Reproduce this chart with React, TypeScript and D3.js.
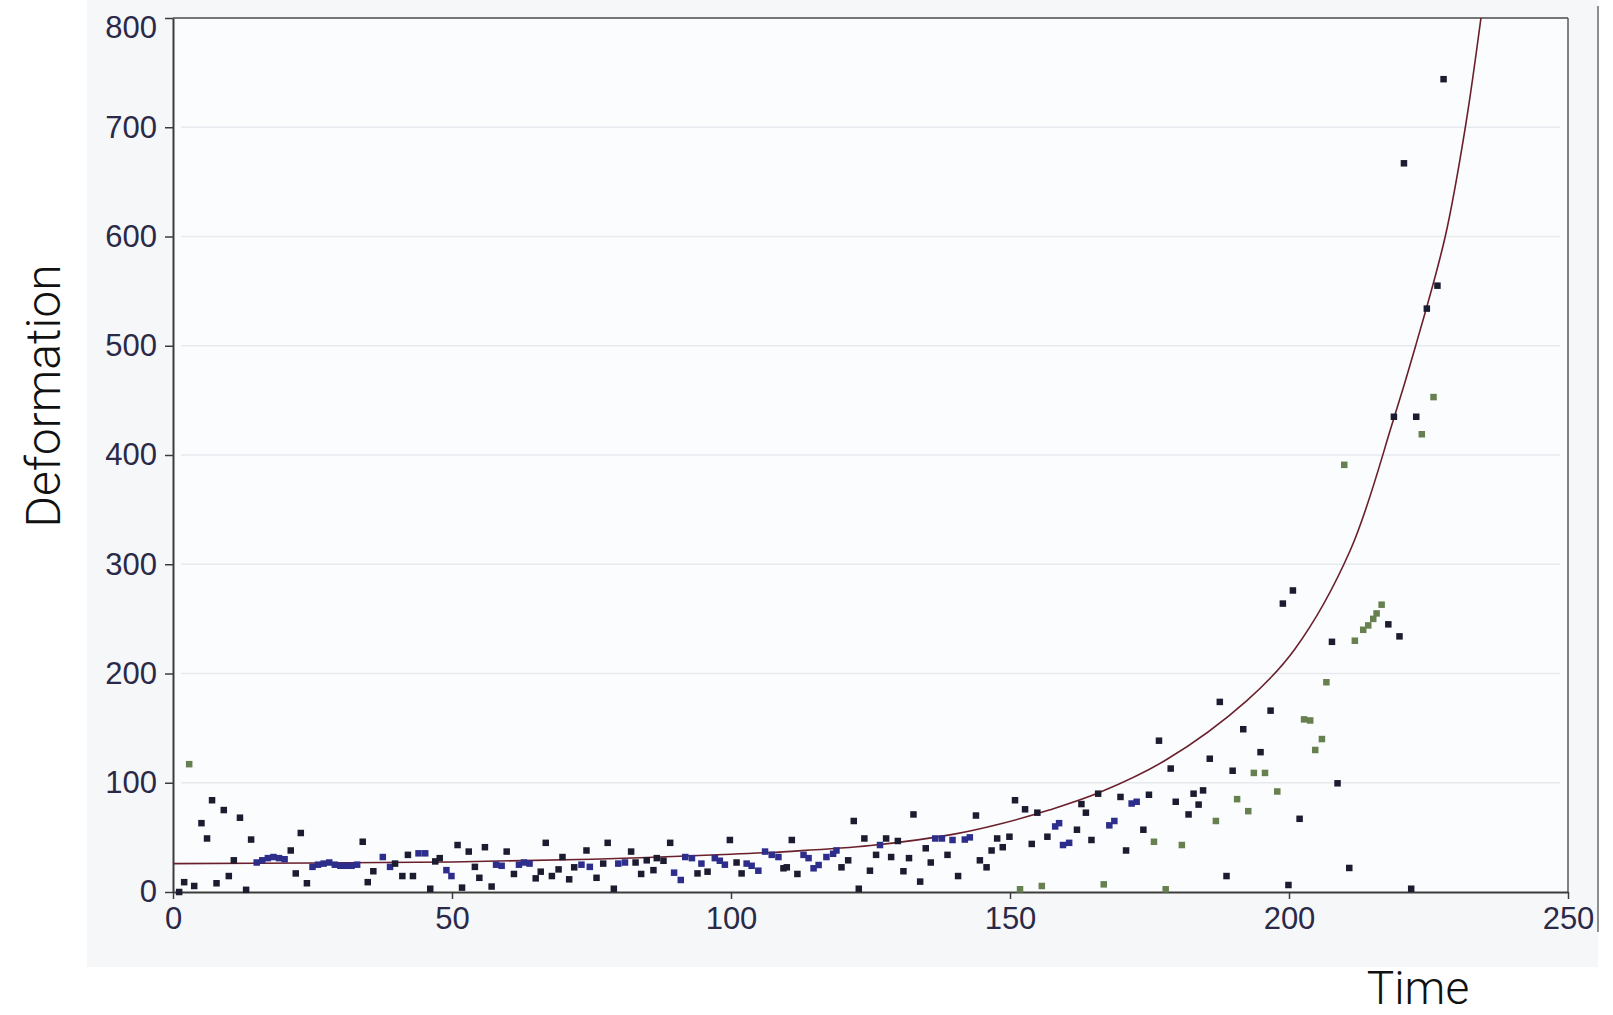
import { useEffect, useRef } from "react";
import * as d3 from "d3";

// [time, deformation]
const darkPoints: [number, number][] = [
  [1.1, 0], [2.0, 9], [3.8, 5.5], [5.1, 63], [6.1, 49], [7.0, 84], [7.8, 8], [9.1, 75], [10.0, 14.6],
  [10.9, 29], [12.0, 68], [13.1, 2], [14.0, 48], [21.1, 38], [22.0, 17], [22.9, 54], [24.0, 8],
  [34.0, 46], [34.9, 9], [35.9, 19], [39.8, 26], [41.1, 14.6], [42.1, 34], [43.0, 14.6], [46.1, 3],
  [47.0, 28], [47.8, 31], [51.0, 43], [51.8, 4], [53.0, 37], [54.1, 23], [54.9, 13], [55.9, 41],
  [57.1, 5], [59.8, 37], [61.1, 16.5], [65.0, 12.5], [65.9, 18.6], [66.8, 45], [67.9, 14.6],
  [69.1, 20.7], [69.8, 32], [71.0, 11.6], [71.9, 22.6], [74.1, 38], [75.9, 13], [77.1, 26], [77.9, 45],
  [79.0, 3], [82.1, 37], [82.9, 27], [83.9, 16.5], [84.9, 29], [86.1, 20], [86.7, 31], [87.9, 28.6],
  [89.1, 45], [94.0, 17], [95.8, 18.6], [99.8, 47.6], [101.0, 27], [101.9, 17], [109.4, 21.7],
  [110.0, 22.6], [110.9, 47.6], [111.9, 16.5], [119.8, 22.6], [121.0, 29], [122.0, 65], [122.9, 3],
  [123.9, 49], [124.9, 19.5], [126.0, 34], [127.8, 49], [128.7, 32], [129.9, 46.7], [130.9, 19],
  [131.9, 31], [132.7, 71], [133.9, 9.5], [134.9, 40], [135.8, 27], [138.8, 34], [140.7, 14.6],
  [143.9, 70], [144.6, 29], [145.8, 22.6], [146.7, 38], [147.7, 49], [148.7, 41], [149.9, 50.6],
  [150.9, 84], [152.7, 75.7], [153.9, 44], [154.9, 72.6], [156.7, 50.6], [162.0, 57], [162.8, 80.5],
  [163.6, 72.6], [164.6, 47.6], [165.8, 90], [169.8, 87], [170.8, 38], [173.9, 57], [174.9, 89],
  [176.7, 138.5], [178.8, 113], [179.7, 82.6], [182.0, 71], [182.9, 90], [183.8, 80], [184.6, 93],
  [185.8, 122], [187.6, 174], [188.8, 14.6], [189.9, 111], [191.8, 149], [194.9, 128], [196.7, 166],
  [198.9, 264], [199.9, 6.4], [200.7, 276], [201.9, 67], [207.7, 229], [208.7, 99.5], [210.8, 22],
  [217.8, 245], [218.8, 435], [219.8, 234], [220.6, 667], [221.9, 3], [222.8, 435], [224.7, 534],
  [226.6, 555], [227.7, 744],
];

const bluePoints: [number, number][] = [
  [15, 27], [16, 29], [17, 31], [18, 32], [19, 31], [20, 30], [25, 23], [26, 25], [27, 26], [28, 27],
  [29, 25], [30, 24], [31, 24], [32, 24], [33, 25], [37.6, 32], [38.9, 23], [44.0, 35.4], [45.2, 35.4],
  [49.0, 20], [49.9, 14.6], [57.9, 25], [58.9, 24], [62.0, 25], [62.9, 27], [63.9, 26], [73.2, 25],
  [74.7, 23], [79.8, 26], [81.0, 27], [89.8, 17.7], [91.0, 11], [91.8, 32], [93.0, 31], [94.7, 26],
  [97.1, 31], [98.0, 28.6], [98.9, 25], [102.8, 26], [103.7, 24], [104.9, 19.5], [106.1, 37],
  [107.3, 34], [108.5, 32], [113.0, 34], [113.9, 31], [114.8, 21.7], [115.7, 24.7], [117.1, 32],
  [118.3, 35], [118.9, 38], [126.7, 43], [136.6, 49], [137.8, 49], [139.7, 47.6], [141.9, 48],
  [142.8, 50], [158.1, 60], [158.8, 63], [159.5, 43], [160.6, 45], [167.8, 61], [168.7, 65],
  [171.8, 81], [172.7, 82.6],
];

const greenPoints: [number, number][] = [
  [2.9, 117], [151.8, 2.5], [155.7, 5.5], [166.8, 7], [175.8, 46], [177.9, 2.5], [180.8, 43],
  [186.9, 65], [190.7, 85], [192.7, 74], [193.7, 109], [195.7, 109], [197.9, 92], [202.7, 158],
  [203.8, 157], [204.7, 130], [205.9, 140], [206.7, 192], [209.9, 391], [211.8, 230], [213.3, 240],
  [214.2, 244], [215.1, 250], [215.7, 255], [216.6, 263], [223.8, 419], [225.9, 453],
];

// fitted curve, points
const curvePoints: [number, number][] = [
  [0, 26], [25, 26.5], [50, 27.5], [75, 30], [100, 34.5], [110, 37], [125, 42.5], [140, 53],
  [148, 62], [157, 75], [166, 91], [178, 121], [192.4, 175], [201, 222], [211, 313], [218.7, 432],
  [222.7, 500], [228, 600], [231.6, 700], [234.4, 800],
];

const xTicks = [0, 50, 100, 150, 200, 250];
const yTicks = [0, 100, 200, 300, 400, 500, 600, 700, 800];
const gridValues = [100, 200, 300, 400, 500, 600, 700];

const W = 1613;
const H = 1015;

export default function App() {
  const svgRef = useRef<SVGSVGElement>(null);

  useEffect(() => {
    const svg = d3.select(svgRef.current);
    svg.selectAll("*").remove();

    const left = 173, right = 1568, top = 18, bottom = 892;
    const x = d3.scaleLinear().domain([0, 250]).range([left, right]);
    const y = d3.scaleLinear().domain([0, 800]).range([bottom, top]);

    // background panel
    svg.append("rect").attr("width", W).attr("height", H).attr("fill", "#ffffff");
    svg.append("rect").attr("x", 87).attr("y", 0).attr("width", 1511).attr("height", 967).attr("fill", "#f6f7f9");
    svg.append("rect").attr("x", left).attr("y", top).attr("width", right - left).attr("height", bottom - top).attr("fill", "#fbfcfd");

    // grid
    svg.append("g")
      .selectAll("line")
      .data(gridValues)
      .join("line")
      .attr("x1", left + 8)
      .attr("x2", right - 8)
      .attr("y1", (d) => y(d))
      .attr("y2", (d) => y(d))
      .attr("stroke", "#e6eaef")
      .attr("stroke-width", 1.5);

    // frame top / right
    svg.append("line").attr("x1", left).attr("x2", right).attr("y1", top).attr("y2", top)
      .attr("stroke", "#4a4a4a").attr("stroke-width", 1.5);
    svg.append("line").attr("x1", right).attr("x2", right).attr("y1", top).attr("y2", bottom)
      .attr("stroke", "#5a5a5a").attr("stroke-width", 1.5);
    // outer line at the right
    svg.append("line").attr("x1", 1598).attr("x2", 1598).attr("y1", 6).attr("y2", 932)
      .attr("stroke", "#6a6a6a").attr("stroke-width", 1.5);

    const tickFont = (g: d3.Selection<SVGGElement, unknown, null, undefined>) => {
      g.select(".domain").attr("stroke", "#3c3c3c").attr("stroke-width", 2);
      g.selectAll(".tick line").attr("stroke", "#3c3c3c").attr("stroke-width", 1.5);
      g.selectAll(".tick text")
        .attr("fill", "#2a2a48")
        .attr("font-size", "31px")
        .attr("font-family", "'Liberation Sans', Arial, sans-serif");
    };

    svg.append("g")
      .attr("transform", `translate(0,${bottom})`)
      .call(d3.axisBottom(x).tickValues(xTicks).tickSize(7).tickSizeOuter(0).tickPadding(8).tickFormat(d3.format("d")))
      .call(tickFont);

    svg.append("g")
      .attr("transform", `translate(${left},0)`)
      .call(d3.axisLeft(y).tickValues(yTicks).tickSize(8).tickSizeOuter(0).tickPadding(8).tickFormat(d3.format("d")))
      .call(tickFont)
      .call((g) => g.selectAll<SVGTextElement, number>(".tick text").filter((d) => d === 800).attr("dy", "0.62em"));

    // curve
    const line = d3.line<[number, number]>()
      .x((d) => x(d[0]))
      .y((d) => y(d[1]))
      .curve(d3.curveCatmullRom.alpha(0.5));

    svg.append("clipPath").attr("id", "plotclip")
      .append("rect").attr("x", left).attr("y", top).attr("width", right - left).attr("height", bottom - top);

    svg.append("path")
      .datum(curvePoints)
      .attr("clip-path", "url(#plotclip)")
      .attr("fill", "none")
      .attr("stroke", "#6a1f2c")
      .attr("stroke-width", 1.6)
      .attr("d", line);

    const size = 6.5;
    const drawSquares = (data: [number, number][], color: string) => {
      svg.append("g")
        .selectAll("rect")
        .data(data)
        .join("rect")
        .attr("x", (d) => x(d[0]) - size / 2)
        .attr("y", (d) => y(d[1]) - size / 2)
        .attr("width", size)
        .attr("height", size)
        .attr("fill", color);
    };
    drawSquares(greenPoints, "#66804f");
    drawSquares(bluePoints, "#2d2d8c");
    drawSquares(darkPoints, "#1c1c30");

    // axis titles
    svg.append("text")
      .attr("transform", `translate(60,${396}) rotate(-90)`)
      .attr("text-anchor", "middle")
      .attr("font-family", "Roboto, 'Liberation Sans', sans-serif")
      .attr("font-weight", 300)
      .attr("font-size", "48px")
      .attr("fill", "#111")
      .text("Deformation");

    svg.append("text")
      .attr("x", 1418)
      .attr("y", 1004)
      .attr("text-anchor", "middle")
      .attr("font-family", "Roboto, 'Liberation Sans', sans-serif")
      .attr("font-weight", 300)
      .attr("font-size", "46px")
      .attr("fill", "#111")
      .text("Time");
  }, []);

  return (
    <div style={{ position: "absolute", left: 0, top: 0, width: W, height: H }}>
      <svg ref={svgRef} width={W} height={H} />
    </div>
  );
}
